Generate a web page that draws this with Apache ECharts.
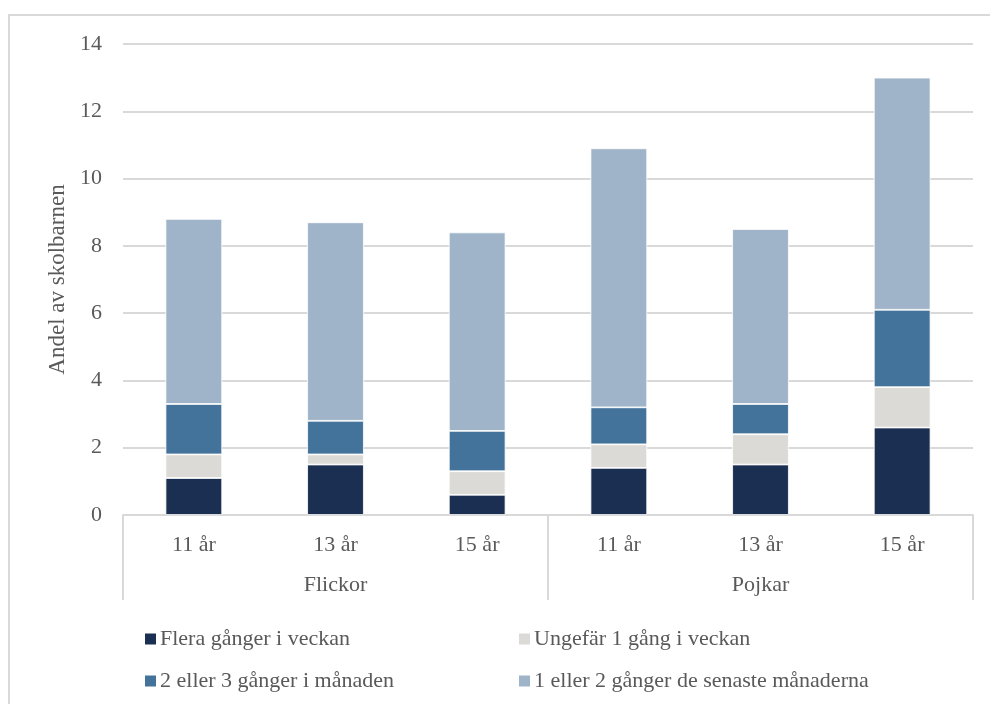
<!DOCTYPE html>
<html>
<head>
<meta charset="utf-8">
<script src="https://cdn.jsdelivr.net/npm/echarts@6/dist/echarts.min.js"></script>
<style>html,body{margin:0;padding:0;background:#fff}#c{width:990px;height:704px}</style>
</head>
<body>
<div id="c"></div>
<script>
const categories = ['11 år','13 år','15 år','11 år','13 år','15 år'];
const groups = ['Flickor','Pojkar'];
const seriesNames = ['Flera gånger i veckan','Ungefär 1 gång i veckan','2 eller 3 gånger i månaden','1 eller 2 gånger de senaste månaderna'];
const flera = [1.1, 1.5, 0.6, 1.4, 1.5, 2.6];
const ungefar = [0.7, 0.3, 0.7, 0.7, 0.9, 1.2];
const tvaTre = [1.5, 1.0, 1.2, 1.1, 0.9, 2.3];
const enTva = [5.5, 5.9, 5.9, 7.7, 5.2, 6.9];
const yTicks = [0, 14, 2];
const yTitle = 'Andel av skolbarnen';

const colors = ['#1b2f52','#dcdad6','#43729b','#9fb4c8'];
const font = '"Liberation Serif", serif';
const txt = '#595959';
const fs = 22;
const chart = echarts.init(document.getElementById('c'));
const values = [flera, ungefar, tvaTre, enTva];
chart.setOption({
  animation: false,
  textStyle: {fontFamily: font},
  graphic: [{type:'rect', shape:{x:9, y:15, width:1000, height:720}, style:{fill:'none', stroke:'#d9d9d9', lineWidth:2}, silent:true}],
  grid: {left:123, right:17, top:44, bottom:189},
  legend: [
    {data:[seriesNames[0], seriesNames[2]], orient:'vertical', left:138, top:623, itemWidth:13, itemHeight:13, itemGap:20, icon:'rect',
     textStyle:{fontFamily:font, fontSize:fs, color:txt, padding:[0,0,0,-2]}},
    {data:[seriesNames[1], seriesNames[3]], orient:'vertical', left:512, top:623, itemWidth:13, itemHeight:13, itemGap:20, icon:'rect',
     textStyle:{fontFamily:font, fontSize:fs, color:txt, padding:[0,0,0,-2]}}
  ],
  xAxis: [
    {type:'category', data:categories, position:'bottom',
     axisLine:{show:true, lineStyle:{color:'#d9d9d9', width:2}}, axisTick:{show:false},
     axisLabel:{fontFamily:font, fontSize:fs, color:txt, margin:19}},
    {type:'category', data:groups, position:'bottom',
     axisLine:{show:false}, axisTick:{show:true, length:85, lineStyle:{color:'#d9d9d9', width:2}},
     axisLabel:{fontFamily:font, fontSize:fs, color:txt, margin:59}}
  ],
  yAxis: {type:'value', min:yTicks[0], max:yTicks[1], interval:yTicks[2],
    name:yTitle, nameLocation:'middle', nameGap:54, nameTextStyle:{fontFamily:font, fontSize:23, color:txt},
    axisLine:{show:false}, axisTick:{show:false},
    axisLabel:{fontFamily:font, fontSize:fs, color:txt, margin:21},
    splitLine:{lineStyle:{color:'#d9d9d9', width:2}}},
  series: values.map((v,i)=>({
    name: seriesNames[i], type:'bar', stack:'s', data:v, barWidth:'40%',
    itemStyle:{color:colors[i], borderColor:'#ffffff', borderWidth:0.8}
  }))
});
</script>
</body>
</html>
